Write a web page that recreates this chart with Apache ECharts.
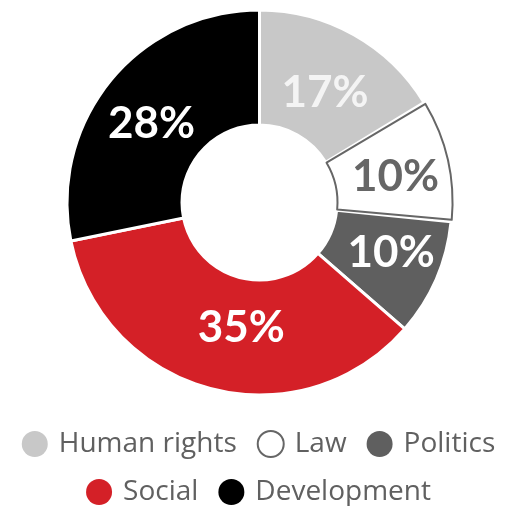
<!DOCTYPE html>
<html>
<head>
<meta charset="utf-8">
<script src="https://cdn.jsdelivr.net/npm/echarts@6/dist/echarts.min.js"></script>
<style>
  html, body { margin: 0; padding: 0; background: #fff; }
  #chart { width: 517px; height: 506px; }
</style>
</head>
<body>
<div id="chart"></div>
<script>
// topics, slice sizes as drawn, and the printed percentages
const categories = ['Human rights', 'Law', 'Politics', 'Social', 'Development'];
const values = [16.3, 10.3, 9.8, 35.4, 28.2];
const labels = ['17%', '10%', '10%', '35%', '28%'];

const legendRow1 = ['Human rights', 'Law', 'Politics'];
const legendRow2 = ['Social', 'Development'];

// styling
const colors = ['#c8c8c8', '#ffffff', '#5f5f5f', '#d42027', '#000000'];
const labelColors = ['#f4f4f4', '#666666', '#ffffff', '#ffffff', '#ffffff'];
const labelShift = [[-2, 11], [1, 5], [5, -4], [17, -8], [-1, 9]]; // hand-placed labels

const LABEL_FONT = 'Lato, "Open Sans", sans-serif';
const LEGEND_FONT = '"Open Sans", Lato, sans-serif';
const CENTER = [259.5, 202.5];

const chart = echarts.init(document.getElementById('chart'));

// horizontal shift through padding, vertical shift through a spacer line
function labelFor(i, show) {
    const dx = labelShift[i][0], dy = labelShift[i][1];
    const text = '{v|' + labels[i] + '}';
    const spacer = '{s| }';
    return {
        show: show,
        padding: [0, dx < 0 ? -2 * dx : 0, 0, dx > 0 ? 2 * dx : 0],
        formatter: dy > 0 ? spacer + '\n' + text : (dy < 0 ? text + '\n' + spacer : text),
        rich: {
            v: {
                fontFamily: LABEL_FONT,
                fontSize: 44,
                fontWeight: 'bold',
                lineHeight: 52,
                color: labelColors[i],
            },
            s: { fontSize: 1, lineHeight: Math.abs(2 * dy) },
        },
    };
}

// main ring: every slice except Law (Law is drawn by the overlay)
const mainData = categories.map((name, i) => ({
    name: name,
    value: values[i],
    itemStyle: name === 'Law'
        ? { color: 'rgba(0,0,0,0)', borderWidth: 0 }
        : { color: colors[i], borderColor: '#fff', borderWidth: 3 },
    label: labelFor(i, name !== 'Law'),
}));

// overlay ring: only Law, with its gray outline
const lawData = categories.map((name, i) => ({
    name: name,
    value: values[i],
    itemStyle: name === 'Law'
        ? { color: '#fff', borderColor: '#666', borderWidth: 2 }
        : { color: 'rgba(0,0,0,0)', borderWidth: 0 },
    label: labelFor(i, name === 'Law'),
}));

const legendBase = {
    left: 'center',
    icon: 'circle',
    itemWidth: 26,
    itemHeight: 26,
    itemGap: 20,
    textStyle: { fontFamily: LEGEND_FONT, fontSize: 28, color: '#606060', padding: [0, 0, 0, 6] },
};

function legendItems(names) {
    return names.map((n) => {
        const i = categories.indexOf(n);
        return n === 'Law'
            ? { name: n, itemStyle: { color: '#fff', borderColor: '#666', borderWidth: 2 } }
            : { name: n, itemStyle: { color: colors[i] } };
    });
}

const option = {
    animation: false,
    legend: [
        Object.assign({}, legendBase, { top: 425, data: legendItems(legendRow1) }),
        Object.assign({}, legendBase, { top: 473, data: legendItems(legendRow2) }),
    ],
    series: [
        {
            name: 'Law outline',
            type: 'pie',
            z: 3,
            silent: true,
            startAngle: 90,
            padAngle: 1.2,
            radius: [78, 193],
            center: CENTER,
            label: { position: 'inside' },
            labelLine: { show: false },
            data: lawData,
        },
        {
            name: 'Topics',
            type: 'pie',
            z: 2,
            startAngle: 90,
            radius: [77.5, 192.5],
            center: CENTER,
            label: { position: 'inside' },
            labelLine: { show: false },
            data: mainData,
        },
    ],
};

chart.setOption(option);
</script>
</body>
</html>
